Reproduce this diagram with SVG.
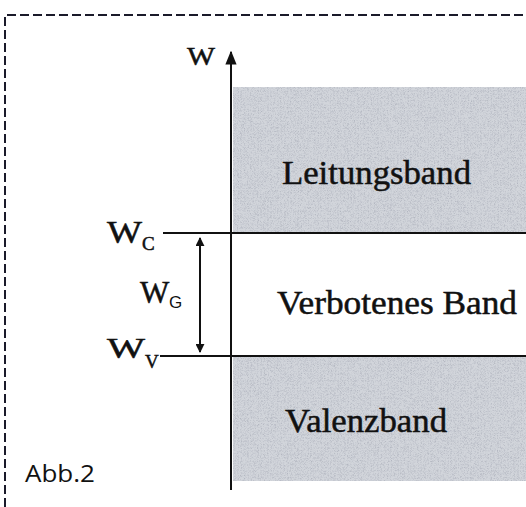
<svg xmlns="http://www.w3.org/2000/svg" width="526" height="507" viewBox="0 0 526 507">
<style>
.t{font-family:"Liberation Serif","Times New Roman",serif;fill:#111;stroke:#111;stroke-width:0.5}
.ln{stroke:#111;stroke-width:2;fill:none}
.band{fill:#d2d5db}
</style>
<defs>
<filter id="noise" x="0" y="0" width="100%" height="100%">
<feTurbulence type="turbulence" baseFrequency="0.7" numOctaves="2" seed="5" result="n"/>
<feColorMatrix in="n" type="matrix" values="0 0 0 0 0.45  0 0 0 0 0.47  0 0 0 0 0.53  0 0 0 1.6 -0.2" result="c"/>
<feComposite in="c" in2="SourceGraphic" operator="in" result="m"/>
<feMerge><feMergeNode in="SourceGraphic"/><feMergeNode in="m"/></feMerge>
</filter>
<marker id="ah" viewBox="0 0 10 10" refX="9" refY="5" markerWidth="9" markerHeight="9" markerUnits="userSpaceOnUse" orient="auto-start-reverse">
<path d="M0,0 L10,5 L0,10 z" fill="#111"/>
</marker>
<marker id="big" viewBox="0 0 10 10" refX="9" refY="5" markerWidth="14" markerHeight="14" markerUnits="userSpaceOnUse" orient="auto">
<path d="M0,1 L10,5 L0,9 z" fill="#111"/>
</marker>
</defs>
<rect width="526" height="507" fill="#fff"/>
<path d="M5,507 L5,15 L526,15" fill="none" stroke="#1a1a2a" stroke-width="2" stroke-dasharray="9,4"/>
<g id="leitungsband">
<rect class="band" x="233" y="87" width="293" height="146" filter="url(#noise)"/>
<text class="t" x="282" y="184" font-size="33" textLength="189" lengthAdjust="spacingAndGlyphs">Leitungsband</text>
</g>
<g id="verbotenes-band">
<text class="t" x="277" y="314" font-size="33" textLength="240" lengthAdjust="spacingAndGlyphs">Verbotenes Band</text>
</g>
<g id="valenzband">
<rect class="band" x="233" y="356" width="293" height="125" filter="url(#noise)"/>
<text class="t" x="285" y="432" font-size="33" textLength="162" lengthAdjust="spacingAndGlyphs">Valenzband</text>
</g>
<g id="labels">
<text class="t" x="187" y="65" font-size="26" textLength="28" lengthAdjust="spacingAndGlyphs">W</text>
<text class="t" x="107" y="243" font-size="31" textLength="35" lengthAdjust="spacingAndGlyphs">W</text>
<text class="t" x="142" y="250" font-size="19" stroke-width="0.3">C</text>
<text class="t" x="140" y="303" font-size="31">W</text>
<text x="169" y="308" font-size="17" font-family="'Liberation Sans',Arial,sans-serif" fill="#111">G</text>
<text class="t" x="107" y="358" font-size="30" textLength="38" lengthAdjust="spacingAndGlyphs">W</text>
<text class="t" x="145" y="368" font-size="19" stroke-width="0.3">V</text>
<text x="25" y="482" font-size="24" textLength="70" lengthAdjust="spacingAndGlyphs" font-family="'Open Sans','Noto Sans',sans-serif" fill="#111">Abb.2</text>
</g>
<g id="connectors">
<line class="ln" x1="231" y1="490" x2="231" y2="52" marker-end="url(#big)"/>
<line class="ln" x1="163" y1="233" x2="526" y2="233"/>
<line class="ln" x1="160" y1="356" x2="526" y2="356"/>
<line class="ln" x1="200" y1="238" x2="200" y2="352" stroke-width="1.6" marker-start="url(#ah)" marker-end="url(#ah)"/>
</g>
</svg>
